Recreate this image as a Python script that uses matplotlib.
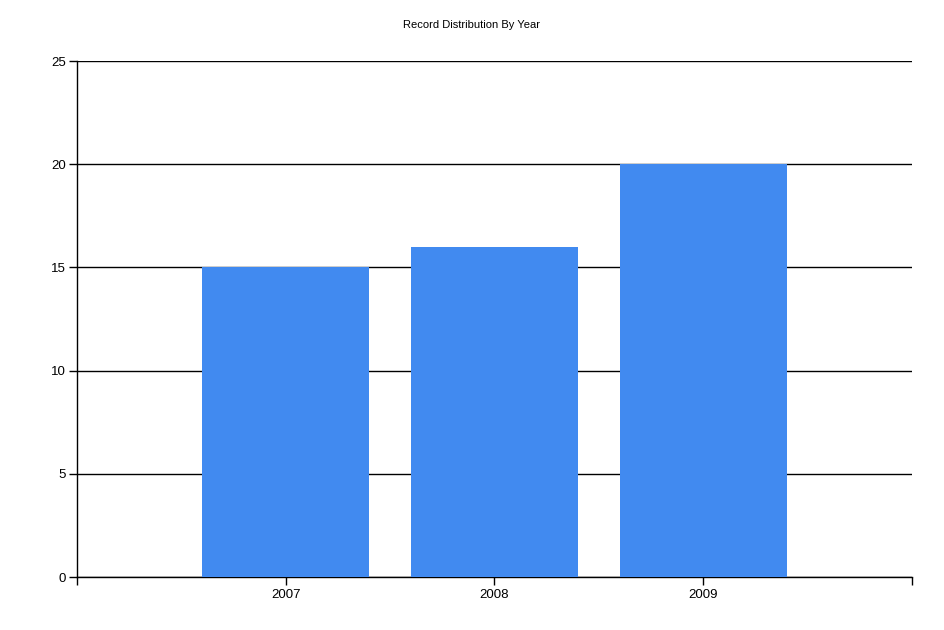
import matplotlib
matplotlib.use('Agg')
import matplotlib.pyplot as plt

# данные
years = ['2007', '2008', '2009']
counts = [15, 16, 20]

plt.rcParams['font.family'] = ['Liberation Sans', 'DejaVu Sans']

fig = plt.figure(figsize=(9.45, 6.3), dpi=100)
ax = fig.add_axes([77 / 945, 53 / 630, 835 / 945, 516 / 630])

pos = list(range(1, len(years) + 1))
ax.bar(pos, counts, width=0.8, color='#418AF0', zorder=3)

ax.set_xlim(0, len(years) + 1)
ax.set_ylim(0, 25)
ax.set_yticks([0, 5, 10, 15, 20, 25])
ax.set_xticks(list(range(0, len(years) + 2)))
ax.set_xticklabels([''] + years + [''])

ax.yaxis.grid(True, color='black', linewidth=1, zorder=1)
ax.spines['top'].set_visible(False)
ax.spines['right'].set_visible(False)
ax.spines['left'].set_linewidth(1)
ax.spines['bottom'].set_linewidth(1)
ax.tick_params(axis='y', length=6, width=1, labelsize=9.5, pad=2)
ax.tick_params(axis='x', length=6, width=1, labelsize=9.5, pad=3)

fig.text(472 / 945, 1 - 25 / 630, 'Record Distribution By Year', ha='center', va='center', fontsize=8)

plt.savefig('out.png', dpi=100)
